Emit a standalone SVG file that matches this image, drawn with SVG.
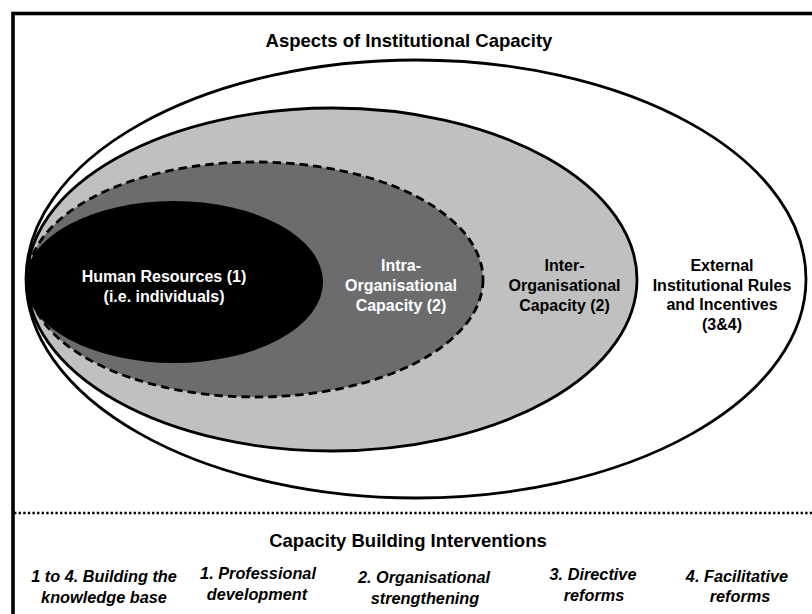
<svg xmlns="http://www.w3.org/2000/svg" width="812" height="614" viewBox="0 0 812 614">
<style>
.t{font-family:"Liberation Sans",Arial,sans-serif;font-weight:bold;text-anchor:middle}
.h{font-size:18.5px;fill:#000}
.n{font-size:16px}
.w{fill:#fff}
.k{fill:#000}
.i{font-size:16.3px;font-style:italic;fill:#000}
.e{stroke:#000;stroke-width:2.8}
</style>
<rect x="13" y="13.5" width="820" height="620" fill="#fff" stroke="#000" stroke-width="3.6"/>
<text class="t h" x="409" y="47">Aspects of Institutional Capacity</text>
<g id="external">
<ellipse class="e" cx="416" cy="279" rx="390" ry="219" fill="#fff"/>
<text class="t n k" x="722" y="271">External</text>
<text class="t n k" x="722" y="290.5">Institutional Rules</text>
<text class="t n k" x="722" y="310">and Incentives</text>
<text class="t n k" x="722" y="329.5">(3&amp;4)</text>
</g>
<g id="inter">
<ellipse class="e" cx="332" cy="279.5" rx="305" ry="171.5" fill="#c0c0c0"/>
<text class="t n k" x="564.5" y="271">Inter-</text>
<text class="t n k" x="564.5" y="291">Organisational</text>
<text class="t n k" x="564.5" y="311">Capacity (2)</text>
</g>
<g id="intra">
<ellipse class="e" cx="255.5" cy="279.5" rx="227.5" ry="117.5" fill="#6c6c6e" stroke-dasharray="8.5 5"/>
<text class="t n w" x="401" y="271">Intra-</text>
<text class="t n w" x="401" y="291">Organisational</text>
<text class="t n w" x="401" y="311">Capacity (2)</text>
</g>
<g id="human">
<ellipse cx="174" cy="282" rx="149" ry="81" fill="#000"/>
<text class="t n w" x="164" y="282">Human Resources (1)</text>
<text class="t n w" x="164" y="302">(i.e. individuals)</text>
</g>
<g id="connectors"></g>
<line x1="14" y1="513" x2="812" y2="513" stroke="#000" stroke-width="2.4" stroke-dasharray="2.4 2.2"/>
<text class="t h" x="408" y="547">Capacity Building Interventions</text>
<g id="interventions">
<text class="t i" x="104" y="582">1 to 4. Building the</text>
<text class="t i" x="104" y="603">knowledge base</text>
<text class="t i" x="258" y="579">1. Professional</text>
<text class="t i" x="257" y="600">development</text>
<text class="t i" x="424" y="583">2. Organisational</text>
<text class="t i" x="425" y="604">strengthening</text>
<text class="t i" x="593" y="580">3. Directive</text>
<text class="t i" x="594" y="601">reforms</text>
<text class="t i" x="737" y="582">4. Facilitative</text>
<text class="t i" x="740" y="602">reforms</text>
</g>
</svg>
